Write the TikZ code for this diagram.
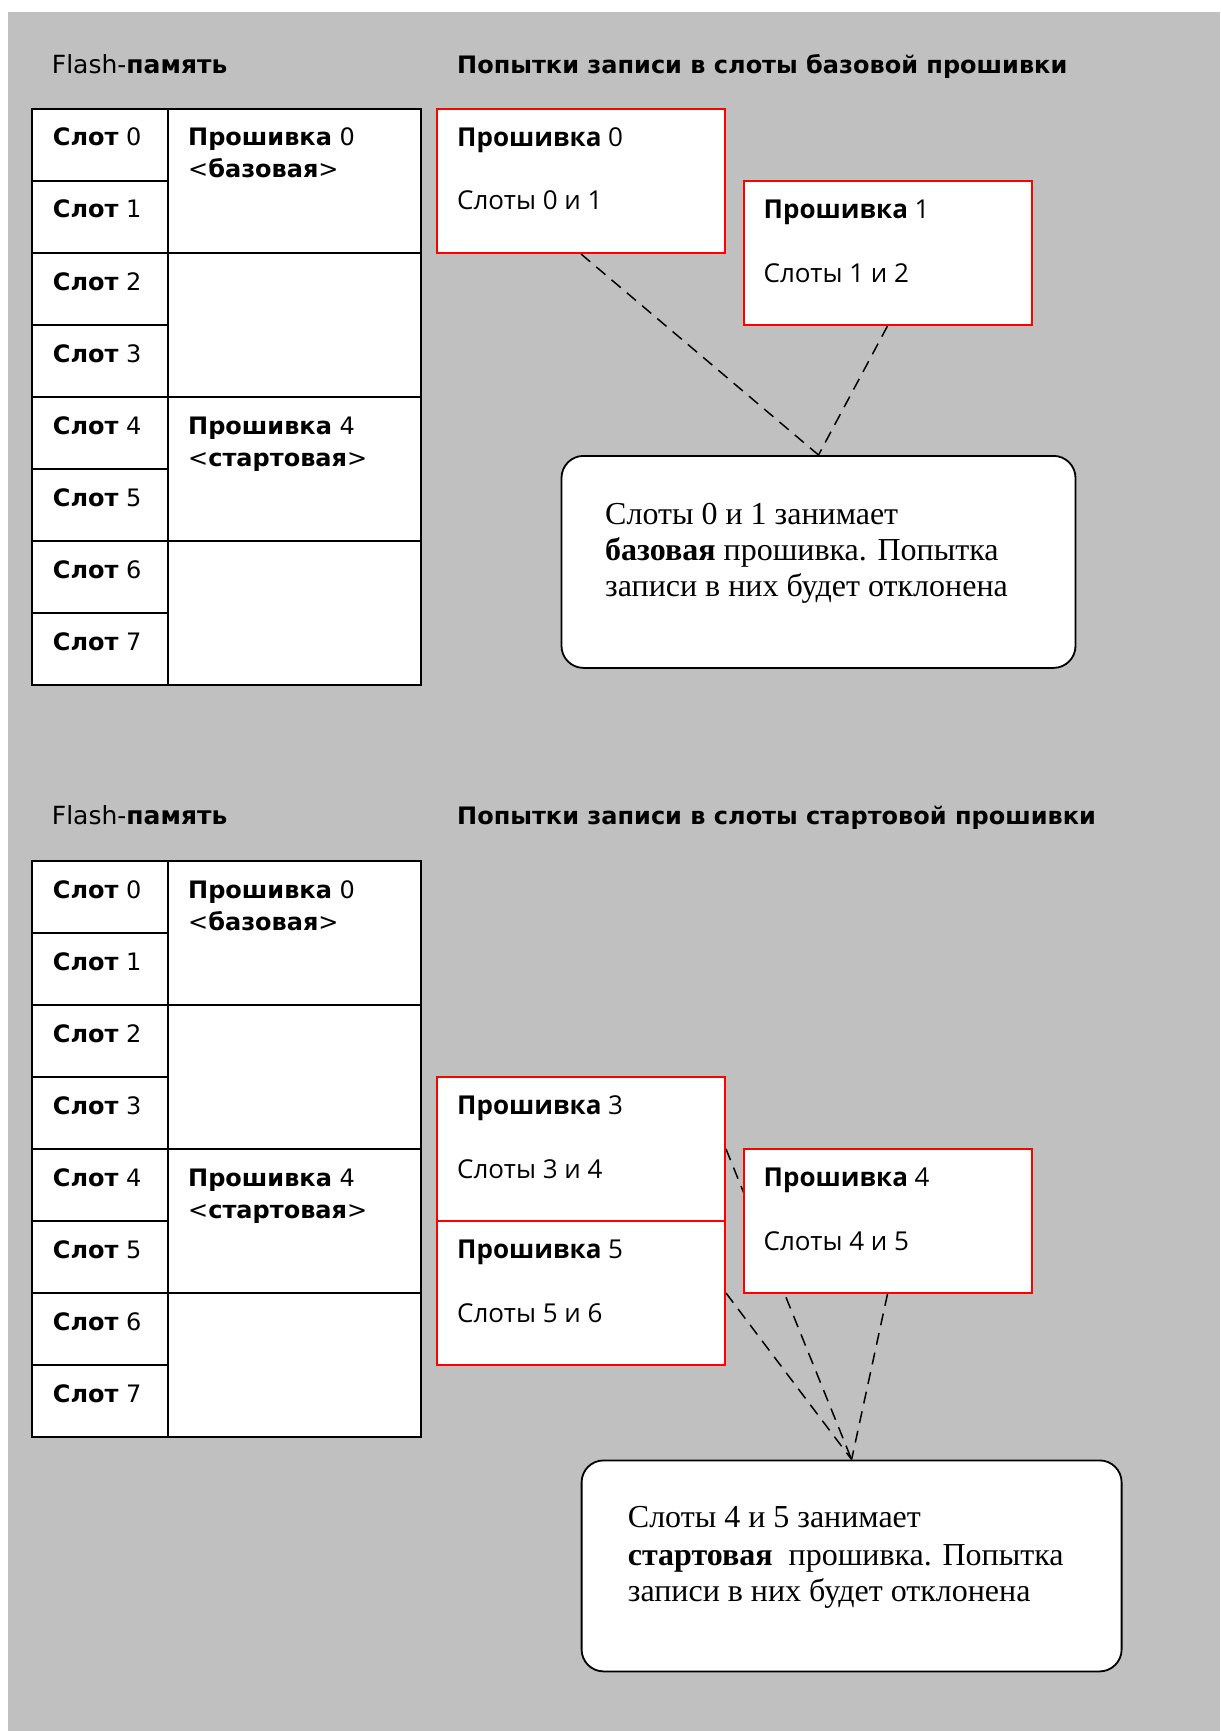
\documentclass[tikz,border=0pt]{standalone}
\usepackage{fontspec}
\setmainfont{Liberation Serif}
\newfontfamily\tabfont{DejaVu Sans}
\newfontfamily\boxfont{Open Sans}
\usetikzlibrary{calc}
\pgfdeclarelayer{bg}
\pgfdeclarelayer{lines}
\pgfsetlayers{bg,lines,main}
\definecolor{bggray}{RGB}{192,192,192}
\tikzset{
  cell/.style={draw=black, line width=2pt, fill=white, inner sep=0pt, anchor=north west},
  slotcell/.style={cell, minimum width=136pt, minimum height=72pt},
  fwcell/.style={cell, minimum width=253pt, minimum height=144pt},
  fwbox/.style={draw=red, line width=2pt, fill=white, inner sep=0pt, anchor=north west, minimum width=288pt, minimum height=144pt},
  notebox/.style={draw=black, line width=1.8pt, fill=white, rounded corners=22pt, inner sep=0pt, anchor=north west},
  tabtxt/.style={anchor=base west, inner sep=0pt, font=\tabfont\fontsize{24}{30}\selectfont},
  boxtxt/.style={anchor=base west, inner sep=0pt, font=\boxfont\fontsize{26}{32}\selectfont},
  titlea/.style={anchor=base west, inner sep=0pt, font=\tabfont\fontsize{25}{30}\selectfont},
  titleb/.style={anchor=base west, inner sep=0pt, font=\tabfont\fontsize{24}{30}\selectfont},
  notetxt/.style={anchor=base west, inner sep=0pt, font=\rmfamily\fontsize{32}{37}\selectfont},
  conn/.style={draw=black, line width=1.5pt, dash pattern=on 12pt off 8pt},
}
\begin{document}
\begin{tikzpicture}[x=1pt, y=-1pt]
\useasboundingbox (0,0) rectangle (1220,1731);
\begin{pgfonlayer}{bg}
  \fill[white] (0,0) rectangle (1220,1731);
  \fill[bggray] (8,12) rectangle (1220,1731);
\end{pgfonlayer}

% ================= TOP SECTION =================
\node[titlea] (h1) at (51.7,73.3) {Flash-\textbf{память}};
\node[titleb] (h2) at (457,73.3) {\textbf{Попытки записи в слоты базовой прошивки}};

\foreach \i in {0,...,7} {
  \node[slotcell] (s\i) at (31,{108+72*\i}) {};
  \node[tabtxt] (st\i) at ($(s\i.north west)+(21.7,38)$) {\textbf{Слот} \i};
}
\foreach \j in {0,...,3} {
  \node[fwcell] (f\j) at (167,{108+144*\j}) {};
}
\node[tabtxt] (fa0) at ($(f0.north west)+(21,38)$) {\textbf{Прошивка} 0};
\node[tabtxt] (fb0) at ($(f0.north west)+(21,70)$) {<\textbf{базовая}>};
\node[tabtxt] (fa2) at ($(f2.north west)+(21,38)$) {\textbf{Прошивка} 4};
\node[tabtxt] (fb2) at ($(f2.north west)+(21,70)$) {<\textbf{стартовая}>};

\node[fwbox] (b0) at (436,108) {};
\node[boxtxt] (b0a) at ($(b0.north west)+(21,38.7)$) {\textbf{Прошивка} 0};
\node[boxtxt] (b0b) at ($(b0.north west)+(21,102)$) {Слоты 0 и 1};

\node[fwbox] (b1) at (742.5,180) {};
\node[boxtxt] (b1a) at ($(b1.north west)+(21,38.7)$) {\textbf{Прошивка} 1};
\node[boxtxt] (b1b) at ($(b1.north west)+(21,102)$) {Слоты 1 и 2};

\node[notebox, minimum width=514pt, minimum height=212pt] (n1) at (560.6,455) {};
\node[notetxt] (n1a) at ($(n1.north west)+(44.4,69.3)$) {Слоты 0 и 1 занимает};
\node[notetxt] (n1b) at ($(n1.north west)+(44.4,105)$) {\textbf{базовая} прошивка. Попытка};
\node[notetxt] (n1c) at ($(n1.north west)+(44.4,141)$) {записи в них будет отклонена};

% ================= BOTTOM SECTION =================
\node[titlea] (h3) at (51.7,824) {Flash-\textbf{память}};
\node[titleb] (h4) at (457,824) {\textbf{Попытки записи в слоты стартовой прошивки}};

\foreach \i in {0,...,7} {
  \node[slotcell] (u\i) at (31,{860+72*\i}) {};
  \node[tabtxt] (ut\i) at ($(u\i.north west)+(21.7,38)$) {\textbf{Слот} \i};
}
\foreach \j in {0,...,3} {
  \node[fwcell] (g\j) at (167,{860+144*\j}) {};
}
\node[tabtxt] (ga0) at ($(g0.north west)+(21,38)$) {\textbf{Прошивка} 0};
\node[tabtxt] (gb0) at ($(g0.north west)+(21,70)$) {<\textbf{базовая}>};
\node[tabtxt] (ga2) at ($(g2.north west)+(21,38)$) {\textbf{Прошивка} 4};
\node[tabtxt] (gb2) at ($(g2.north west)+(21,70)$) {<\textbf{стартовая}>};

\node[fwbox] (b3) at (436,1076) {};
\node[boxtxt] (b3a) at ($(b3.north west)+(21,38.7)$) {\textbf{Прошивка} 3};
\node[boxtxt] (b3b) at ($(b3.north west)+(21,102)$) {Слоты 3 и 4};

\node[fwbox] (b5) at (436,1220) {};
\node[boxtxt] (b5a) at ($(b5.north west)+(21,38.7)$) {\textbf{Прошивка} 5};
\node[boxtxt] (b5b) at ($(b5.north west)+(21,102)$) {Слоты 5 и 6};

\node[fwbox] (b4) at (742.5,1148) {};
\node[boxtxt] (b4a) at ($(b4.north west)+(21,38.7)$) {\textbf{Прошивка} 4};
\node[boxtxt] (b4b) at ($(b4.north west)+(21,102)$) {Слоты 4 и 5};

\node[notebox, minimum width=540pt, minimum height=211pt] (n2) at (580.7,1459.5) {};
\node[notetxt] (n2a) at ($(n2.north west)+(47,67.8)$) {Слоты 4 и 5 занимает};
\node[notetxt] (n2b) at ($(n2.north west)+(47,105.5)$) {\textbf{стартовая}\ \ прошивка. Попытка};
\node[notetxt] (n2c) at ($(n2.north west)+(47,142.2)$) {записи в них будет отклонена};

% ================= CONNECTORS =================
\begin{pgfonlayer}{lines}
  \draw[conn] (b0.south) -- (n1.north);
  \draw[conn] (b1.south) -- (n1.north);
  \draw[conn] (b3.east) -- (n2.north);
  \draw[conn] (b5.east) -- (n2.north);
  \draw[conn] (b4.south) -- (n2.north);
\end{pgfonlayer}
\end{tikzpicture}
\end{document}
